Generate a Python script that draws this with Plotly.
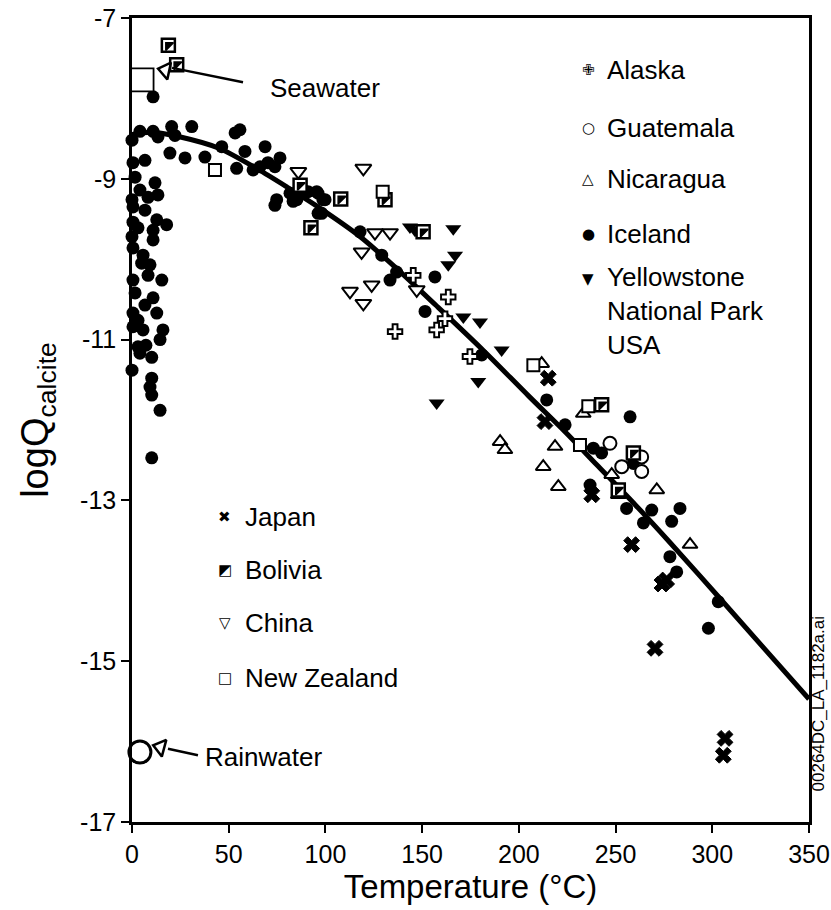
import plotly.graph_objects as go

# ---------------- data ----------------
x_ticks = [0, 50, 100, 150, 200, 250, 300, 350]
x_ticklabels = ["0", "50", "100", "150", "200", "250", "300", "350"]
y_ticks = [-17, -15, -13, -11, -9, -7]
y_ticklabels = ["-17", "-15", "-13", "-11", "-9", "-7"]

fit_T = [0, 10, 25, 45, 65, 80, 95, 118, 137, 157, 181, 205, 224, 240, 260, 278, 304, 350]
fit_logQ = [-8.45, -8.42, -8.48, -8.62, -8.88, -9.10, -9.33, -9.72, -10.12, -10.57,
            -11.12, -11.70, -12.15, -12.55, -13.05, -13.52, -14.22, -15.47]

iceland_T = [0, 4.1, 10.9, 13.4, 20.5, 22.2, 30.9, 19.6, 27.4, 37.7, 46.4, 53.3, 55.8, 58.4,
             68.8, 76.5, 54.1, 62.6, 66.2, 70.3, 73.9, 74.8, 81.7, 85.2, 91.0, 96.2, 98.7,
             96.2, 73.9, 10.9, 0.5, 6.7, 1.6, 11.9, 8.3, 13.4, 0, 0.5, 6.7, 12.8, 17.9, 10.9,
             0, 3.1, 10.9, 0.5, 5.7, 5.0, 0.5, 8.3, 15.4, 1.6, 10.9, 0.5, 12.8, 0.5, 5.7,
             16.0, 14.5, 3.1, 10.2, 4.1, 0, 10.2, 9.3, 10.2, 14.5, 10.2, 4.1, 6.7, 3.1, 7.2,
             0.5, 9.3,
             83.3, 88.4, 95.5, 99.8, 98.1, 117.9, 129.1, 133.4, 136.8, 156.6, 151.5, 180.8,
             214.4, 223.9, 257.5, 238.5, 242.8, 236.8, 259.2, 255.7, 268.7, 264.4, 279.0,
             283.3, 278.1, 281.6, 303.1, 298.0]
iceland_logQ = [-8.52, -8.41, -8.41, -8.48, -8.35, -8.46, -8.35, -8.68, -8.74, -8.73, -8.60,
                -8.43, -8.39, -8.66, -8.60, -8.74, -8.87, -8.89, -8.85, -8.80, -8.85, -9.26,
                -9.18, -9.26, -9.16, -9.18, -9.26, -9.43, -9.33, -7.98, -8.80, -8.77, -8.98,
                -9.05, -9.23, -9.20, -9.26, -9.35, -9.39, -9.51, -9.57, -9.64, -9.72, -9.61,
                -9.76, -9.86, -9.95, -10.05, -10.26, -10.20, -10.26, -10.42, -10.48, -10.67,
                -10.67, -10.84, -10.88, -10.88, -11.00, -11.09, -11.22, -11.17, -11.38,
                -11.48, -11.59, -11.69, -11.88, -12.47, -9.14, -10.57, -10.76, -11.07,
                -9.54, -10.07,
                -9.28, -9.14, -9.16, -9.26, -9.43, -9.66, -9.95, -10.26, -10.16, -10.22,
                -10.65, -11.19, -11.75, -12.06, -11.96, -12.35, -12.41, -12.81, -12.54,
                -13.10, -13.12, -13.28, -13.26, -13.10, -13.70, -13.89, -14.26, -14.59]

alaska_T = [145.4, 163.5, 161.8, 157.5, 136.0, 174.7]
alaska_logQ = [-10.20, -10.47, -10.74, -10.88, -10.90, -11.21]

guatemala_T = [247.1, 263.5, 253.2, 263.5]
guatemala_logQ = [-12.29, -12.46, -12.58, -12.64]

nicaragua_T = [211.8, 233.3, 190.3, 192.8, 218.7, 212.6, 220.4, 248.0, 251.4, 271.3, 288.5]
nicaragua_logQ = [-11.30, -11.92, -12.27, -12.37, -12.33, -12.58, -12.83, -12.68, -12.93,
                  -12.87, -13.55]

yellowstone_T = [143.7, 146.3, 166.1, 167.0, 163.5, 171.3, 179.9, 191.1, 179.0, 157.5]
yellowstone_logQ = [-9.60, -9.64, -9.62, -9.95, -10.07, -10.72, -10.78, -11.13, -11.52, -11.79]

japan_T = [215.2, 213.5, 237.7, 258.3, 276.4, 274.0, 270.4, 306.6, 305.7]
japan_logQ = [-11.48, -12.02, -12.93, -13.55, -13.99, -14.04, -14.84, -15.96, -16.17]

bolivia_T = [18.8, 23.1, 86.9, 107.9, 130.8, 92.5, 150.5, 242.8, 259.2, 251.4]
bolivia_logQ = [-7.34, -7.58, -9.08, -9.25, -9.26, -9.61, -9.66, -11.81, -12.41, -12.87]

china_T = [86.0, 119.6, 125.6, 133.4, 118.7, 112.7, 123.9, 119.6, 147.2]
china_logQ = [-8.91, -8.87, -9.67, -9.67, -9.91, -10.40, -10.32, -10.55, -10.38]

newzealand_T = [42.9, 129.6, 207.5, 235.9, 231.6]
newzealand_logQ = [-8.89, -9.16, -11.32, -11.83, -12.31]

seawater_T = [5.2]
seawater_logQ = [-7.77]
rainwater_T = [4.1]
rainwater_logQ = [-16.13]

# pointer arrows for the Seawater / Rainwater labels
arrowhead_T = [17.3, 14.7]
arrowhead_logQ = [-7.65, -16.07]
arrowhead_angle = [12, 15]
seawater_shaft_T = [20.7, 57.4]
seawater_shaft_logQ = [-7.62, -7.80]
rainwater_shaft_T = [18.6, 34.1]
rainwater_shaft_logQ = [-16.09, -16.17]

legend_right = ["Alaska", "Guatemala", "Nicaragua", "Iceland"]
legend_right_glyph = ["✙", "○", "△", "●"]
legend_left = ["Japan", "Bolivia", "China", "New Zealand"]
legend_left_glyph = ["✖", "◩", "▽", "□"]

FONT = "Liberation Sans, Arial, Helvetica, sans-serif"
GLYPH_FONT = "DejaVu Sans, sans-serif"

fig = go.Figure()

# fitted curve
fig.add_trace(go.Scatter(x=fit_T, y=fit_logQ, mode="lines",
                         line=dict(color="black", width=5, shape="spline", smoothing=0.8),
                         hoverinfo="skip"))


def pts(x, y, symbol, size, color, lw, lcolor="black"):
    fig.add_trace(go.Scatter(x=x, y=y, mode="markers", cliponaxis=False,
                             marker=dict(symbol=symbol, size=size, color=color,
                                         line=dict(color=lcolor, width=lw))))


pts(iceland_T, iceland_logQ, "circle", 13, "black", 0)
pts(alaska_T, alaska_logQ, "cross", 12, "white", 2)
pts(guatemala_T, guatemala_logQ, "circle", 13, "white", 2)
pts(nicaragua_T, nicaragua_logQ, "triangle-up", 13, "white", 2)
pts(yellowstone_T, yellowstone_logQ, "triangle-down", 14, "black", 0)
pts(japan_T, japan_logQ, "x", 14, "black", 1)
pts(bolivia_T, bolivia_logQ, "square", 13, "white", 2.5)
pts(bolivia_T, bolivia_logQ, "triangle-nw", 8.5, "black", 1.5)
pts(china_T, china_logQ, "triangle-down", 14, "white", 2)
pts(newzealand_T, newzealand_logQ, "square", 12, "white", 2)

# seawater / rainwater reference waters
pts(seawater_T, seawater_logQ, "square", 23, "white", 1.8)
pts(rainwater_T, rainwater_logQ, "circle", 22, "white", 3)

# arrow shafts
for sx, sy in ((seawater_shaft_T, seawater_shaft_logQ), (rainwater_shaft_T, rainwater_shaft_logQ)):
    fig.add_trace(go.Scatter(x=sx, y=sy, mode="lines", cliponaxis=False,
                             line=dict(color="black", width=2.5), hoverinfo="skip"))
# open arrowheads
fig.add_trace(go.Scatter(x=arrowhead_T, y=arrowhead_logQ, mode="markers", cliponaxis=False,
                         marker=dict(symbol="triangle-left", size=15, color="white",
                                     angle=arrowhead_angle,
                                     line=dict(color="black", width=2.5))))

annotations = []
annotations.append(dict(x=70.3, y=-7.87, xref="x", yref="y", text="Seawater",
                        showarrow=False, xanchor="left", yanchor="middle",
                        font=dict(family=FONT, size=26, color="black")))
annotations.append(dict(x=36.7, y=-16.19, xref="x", yref="y", text="Rainwater",
                        showarrow=False, xanchor="left", yanchor="middle",
                        font=dict(family=FONT, size=26, color="black")))

# right legend block
right_y = [0.935, 0.863, 0.800, 0.731]
for name, g, yy in zip(legend_right, legend_right_glyph, right_y):
    annotations.append(dict(x=0.6736, y=yy, xref="paper", yref="paper", text=g,
                            showarrow=False, xanchor="center", yanchor="middle",
                            font=dict(family=GLYPH_FONT, size=15, color="black")))
    annotations.append(dict(x=0.6987, y=yy, xref="paper", yref="paper", text=name,
                            showarrow=False, xanchor="left", yanchor="middle",
                            font=dict(family=FONT, size=26, color="black")))
annotations.append(dict(x=0.6736, y=0.675, xref="paper", yref="paper", text="▼",
                        showarrow=False, xanchor="center", yanchor="middle",
                        font=dict(family=GLYPH_FONT, size=15, color="black")))
annotations.append(dict(x=0.6987, y=0.636, xref="paper", yref="paper",
                        text="Yellowstone<br>National Park<br>USA", align="left",
                        showarrow=False, xanchor="left", yanchor="middle",
                        font=dict(family=FONT, size=26, color="black")))

# left legend block
left_y = [0.379, 0.313, 0.248, 0.179]
for name, g, yy in zip(legend_left, legend_left_glyph, left_y):
    annotations.append(dict(x=0.137, y=yy, xref="paper", yref="paper", text=g,
                            showarrow=False, xanchor="center", yanchor="middle",
                            font=dict(family=GLYPH_FONT, size=15, color="black")))
    annotations.append(dict(x=0.164, y=yy, xref="paper", yref="paper", text=name,
                            showarrow=False, xanchor="left", yanchor="middle",
                            font=dict(family=FONT, size=26, color="black")))

# file tag on the right edge
annotations.append(dict(x=1.014, y=0.148, xref="paper", yref="paper",
                        text="00264DC_LA_1182a.ai", textangle=-90, showarrow=False,
                        xanchor="center", yanchor="middle",
                        font=dict(family=FONT, size=17, color="black")))

fig.update_layout(
    width=831, height=910,
    margin=dict(l=132, r=22, t=18, b=88, autoexpand=False),
    paper_bgcolor="white", plot_bgcolor="white",
    showlegend=False,
    annotations=annotations,
    font=dict(family=FONT, color="black"),
)
fig.update_xaxes(range=[0, 350], tickvals=x_ticks, ticktext=x_ticklabels,
                 automargin=False,
                 showline=True, linecolor="black", linewidth=2.5, mirror=True,
                 ticks="outside", ticklen=8, tickwidth=2, tickcolor="black",
                 showgrid=False, zeroline=False,
                 tickfont=dict(family=FONT, size=25, color="black"),
                 title=dict(text="Temperature (°C)", standoff=3,
                            font=dict(family=FONT, size=33, color="black")))
fig.update_yaxes(range=[-17, -7], tickvals=y_ticks, ticktext=y_ticklabels,
                 automargin=False,
                 showline=True, linecolor="black", linewidth=2.5, mirror=True,
                 ticks="outside", ticklen=8, tickwidth=2, tickcolor="black",
                 showgrid=False, zeroline=False,
                 tickfont=dict(family=FONT, size=25, color="black"),
                 title=dict(text="logQ<sub>calcite</sub>", standoff=20,
                            font=dict(family=FONT, size=38, color="black")))

fig.write_html("out.html")
